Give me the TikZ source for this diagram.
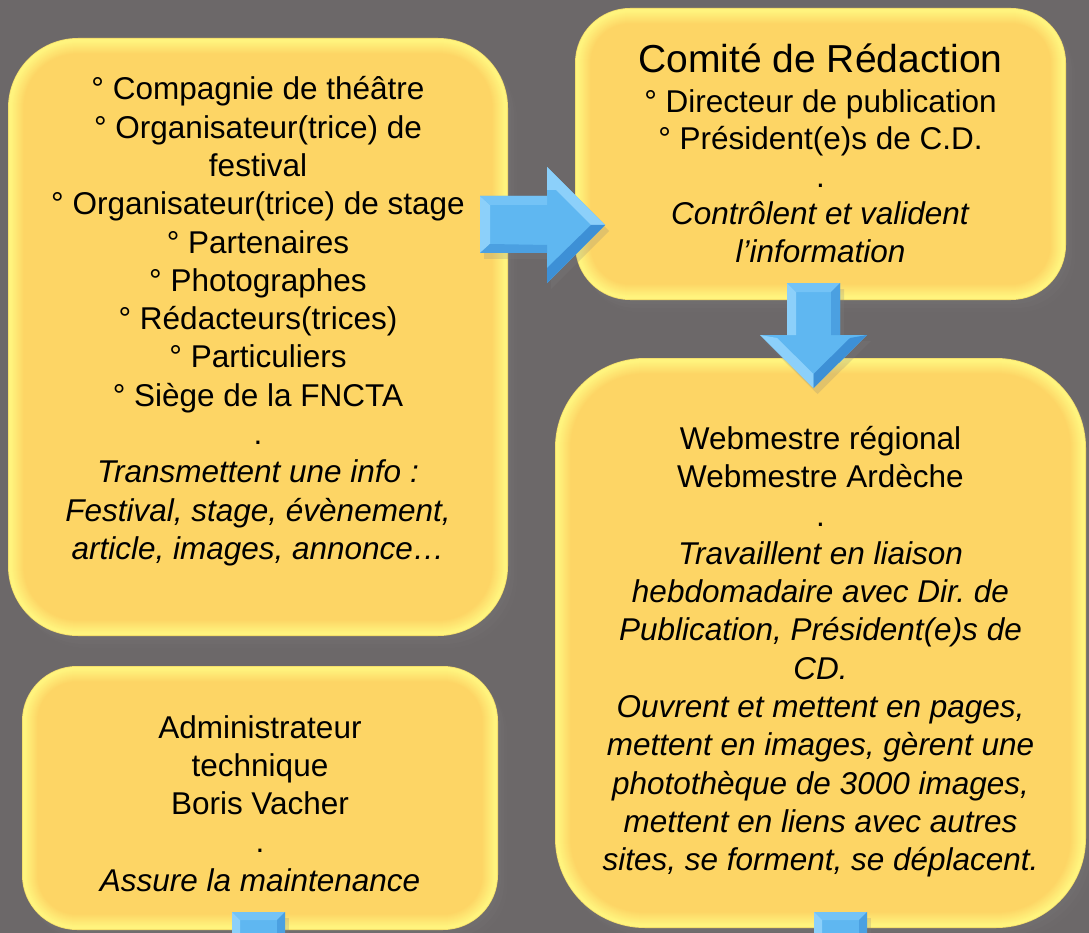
\documentclass[tikz,border=0pt]{standalone}
\usepackage{fontspec}
\setmainfont{Liberation Sans}
\usetikzlibrary{calc,shadows}
\frenchspacing
\definecolor{bg}{HTML}{6C6869}
\definecolor{rimedge}{HTML}{F4DE6A}
\definecolor{rim}{HTML}{FFF47E}
\definecolor{boxfill}{HTML}{FDD565}
\definecolor{ablue}{HTML}{5FB7F1}
\definecolor{alight}{HTML}{8CD0FA}
\definecolor{amid}{HTML}{74C3F6}
\definecolor{adark}{HTML}{3D90D6}
\tikzset{
  body/.style={font=\fontsize{31.5}{38.3}\selectfont, align=center, inner sep=0pt, text=black, anchor=north},
  panel/.style={fill=rimedge, draw=none, inner sep=0pt,
    drop shadow={opacity=0.10, shadow xshift=3pt, shadow yshift=-4pt},
    drop shadow={opacity=0.10, shadow xshift=6pt, shadow yshift=-8pt},
    drop shadow={opacity=0.08, shadow xshift=9pt, shadow yshift=-12pt}},
  arrowbody/.style={fill=ablue, drop shadow={opacity=0.22, shadow xshift=4pt, shadow yshift=-6pt}},
}
\begin{document}
\begin{tikzpicture}[x=1pt,y=-1pt]
\useasboundingbox (0,0) rectangle (1089,933);
\clip (0,0) rectangle (1089,933);
\fill[bg] (0,0) rectangle (1089,933);

% panels
\node[panel, minimum width=500pt, minimum height=598pt, rounded corners=70pt] (b1) at (258,337) {};
\node[panel, minimum width=491pt, minimum height=292pt, rounded corners=55pt] (b2) at (820.5,154) {};
\node[panel, minimum width=531pt, minimum height=570pt, rounded corners=90pt] (b3) at (820.5,643) {};
\node[panel, minimum width=476pt, minimum height=264pt, rounded corners=55pt] (b4) at (260,798) {};

\foreach \n/\r in {b1/70, b2/55, b3/90, b4/55}{
  \foreach \i in {1,...,16}{
    \pgfmathsetmacro\rr{\r-\i}
    \pgfmathtruncatemacro\p{min(100,max(0,(\i-3)*100/13))}
    \fill[boxfill!\p!rim, rounded corners=\rr pt] ($(\n.north west)+(\i,\i)$) rectangle ($(\n.south east)+(-\i,-\i)$);
  }
}

% texts
\node[body] (t1) at (258,76.5) {° Compagnie de théâtre\\
° Organisateur(trice) de\\
festival\\
° Organisateur(trice) de stage\\
° Partenaires\\
° Photographes\\
° Rédacteurs(trices)\\
° Particuliers\\
° Siège de la FNCTA\\
.\\
\textit{Transmettent une info :}\\
\textit{Festival, stage, évènement,}\\
\textit{article, images, annonce…}};

\node[font=\fontsize{39}{40}\selectfont, inner sep=0pt, anchor=base, text=black] (t2h) at (820.5,73) {Comité de Rédaction};
\node[body, font=\fontsize{31.5}{37.5}\selectfont] (t2) at (820.5,89) {° Directeur de publication\\
° Président(e)s de C.D.\\
.\\
\textit{Contrôlent et valident}\\
\textit{l’information}};

\node[body] (t3) at (820.5,426) {Webmestre régional\\
Webmestre Ardèche\\
.\\
\textit{Travaillent en liaison}\\
\textit{hebdomadaire avec Dir. de}\\
\textit{Publication, Président(e)s de}\\
\textit{CD.}\\
\textit{Ouvrent et mettent en pages,}\\
\textit{mettent en images, gèrent une}\\
\textit{photothèque de 3000 images,}\\
\textit{mettent en liens avec autres}\\
\textit{sites, se forment, se déplacent.}};

\node[body] (t4) at (260,715) {Administrateur\\
technique\\
Boris Vacher\\
.\\
\textit{Assure la maintenance}};

% right arrow b1 -> b2
\fill[arrowbody] (480,196) -- (547,196) -- (547,167) -- (605,225) -- (547,283) -- (547,253) -- (480,253) -- cycle;
\fill[alight] (480,196) -- (490,205) -- (490,244) -- (480,253) -- cycle;
\fill[amid] (480,196) -- (547,196) -- (547,205) -- (490,205) -- cycle;
\fill[adark!60!ablue] (480,253) -- (547,253) -- (547,245) -- (490,244) -- cycle;
\fill[alight] (547,167) -- (605,225) -- (591,225) -- (556,190) -- (547,190) -- cycle;
\fill[adark] (605,225) -- (547,283) -- (547,268) -- (591,225) -- cycle;

% down arrow b2 -> b3
\fill[arrowbody] (787,283) -- (840,283) -- (840,335) -- (867,335) -- (813.5,388) -- (760,335) -- (787,335) -- cycle;
\fill[alight] (787,283) -- (796,292) -- (796,335) -- (787,335) -- cycle;
\fill[amid] (787,283) -- (840,283) -- (831,292) -- (796,292) -- cycle;
\fill[adark!60!ablue] (840,283) -- (840,335) -- (831,335) -- (831,292) -- cycle;
\fill[alight] (760,335) -- (813.5,388) -- (813.5,374) -- (777,338) -- cycle;
\fill[adark] (867,335) -- (813.5,388) -- (813.5,374) -- (850,338) -- cycle;

% bottom arrows (leaving the picture)
\foreach \xa/\xb/\nm in {232/285/bl, 814/867/br}{
  \fill[arrowbody] (\xa,912) rectangle (\xb,940);
  \fill[amid] (\xa,912) -- (\xb,912) -- ($(\xb,912)+(-8,8)$) -- ($(\xa,912)+(8,8)$) -- cycle;
  \fill[alight] (\xa,912) -- ($(\xa,912)+(8,8)$) -- ($(\xa,940)+(8,0)$) -- (\xa,940) -- cycle;
  \fill[adark!60!ablue] (\xb,912) -- ($(\xb,912)+(-8,8)$) -- ($(\xb,940)+(-8,0)$) -- (\xb,940) -- cycle;
}
\end{tikzpicture}
\end{document}
